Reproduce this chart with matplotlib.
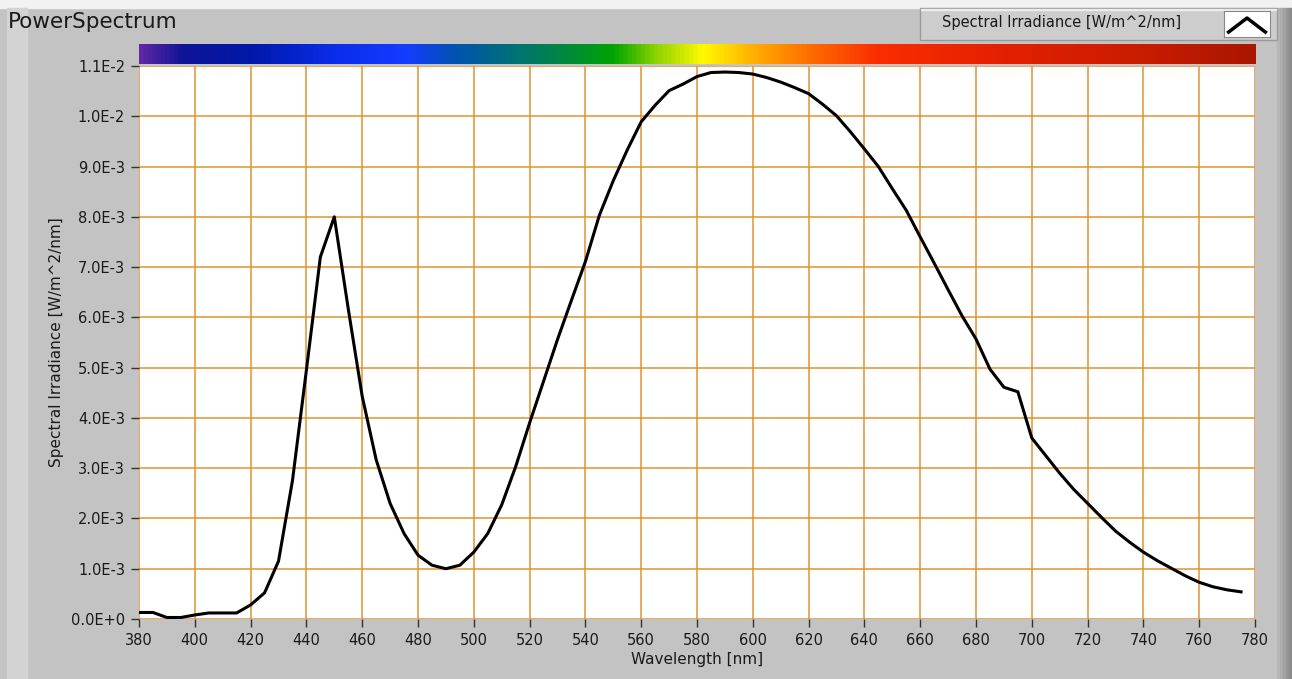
import numpy as np
import matplotlib
matplotlib.use("Agg")
import matplotlib.pyplot as plt
from matplotlib.colors import LinearSegmentedColormap
from matplotlib.patches import Rectangle
from matplotlib.ticker import FuncFormatter

# spectrum (5 nm steps), values in 1e-3 W/m^2/nm
wavelength = np.arange(380, 780, 5)
irradiance_e3 = [
    0.13, 0.13, 0.03, 0.03, 0.08, 0.12, 0.12, 0.12, 0.28, 0.52,   # 380-425
    1.15, 2.75, 4.95, 7.20, 8.00, 6.17, 4.43, 3.17, 2.30, 1.70,   # 430-475
    1.27, 1.07, 1.00, 1.07, 1.33, 1.70, 2.27, 3.03, 3.90, 4.73,   # 480-525
    5.56, 6.34, 7.11, 8.03, 8.72, 9.33, 9.89, 10.22, 10.51, 10.64,  # 530-575
    10.79, 10.87, 10.88, 10.87, 10.84, 10.77, 10.68, 10.57, 10.45, 10.24,  # 580-625
    10.01, 9.69, 9.35, 9.00, 8.56, 8.13, 7.60, 7.08, 6.55, 6.03,  # 630-675
    5.57, 4.97, 4.61, 4.52, 3.60, 3.25, 2.90, 2.58, 2.30, 2.02,   # 680-725
    1.75, 1.53, 1.33, 1.16, 1.01, 0.86, 0.73, 0.64, 0.58, 0.54,   # 730-775
]
irradiance = np.array(irradiance_e3) * 1e-3

xticks = np.arange(380, 781, 20)
yticks = np.arange(0, 12) * 1e-3

# colour strip above the plot
strip_nm = [380, 395, 420, 450, 475, 495, 515, 535, 550, 565, 582, 600, 620, 645, 690, 740, 780]
strip_rgb = [(95, 40, 165), (15, 20, 150), (0, 25, 170), (10, 45, 235), (20, 60, 255),
             (0, 85, 170), (0, 115, 115), (0, 140, 55), (0, 165, 0), (140, 210, 0),
             (255, 250, 0), (255, 175, 0), (255, 110, 0), (250, 45, 0), (228, 32, 0),
             (200, 28, 0), (170, 22, 0)]

W, H = 1292, 679
BG = "#c3c3c3"
GRID = "#e3922c"


def box(x0, y0, x1, y1):
    # pixel box (top-left origin) -> figure fraction rect
    return [x0 / W, 1 - y1 / H, (x1 - x0) / W, (y1 - y0) / H]


fig = plt.figure(figsize=(W / 100, H / 100), dpi=100, facecolor=BG)
plt.rcParams['font.family'] = ['DejaVu Sans']

# frame decoration
fig.patches.append(Rectangle((0, 1 - 8 / H), 1, 8 / H, transform=fig.transFigure,
                             color="#f2f2f2", zorder=-2))
fig.patches.append(Rectangle((7 / W, 0), 20 / W, 1 - 8 / H, transform=fig.transFigure,
                             color="#d3d3d3", zorder=-2))
for i, c in enumerate(["#b8b8b8", "#adadad", "#a2a2a2", "#979797", "#8c8c8c"]):
    fig.patches.append(Rectangle(((1277 + i * 3) / W, 0), 3 / W, 1 - 8 / H,
                                 transform=fig.transFigure, color=c, zorder=-2))

# legend panel
fig.patches.append(Rectangle((920 / W, 1 - 40 / H), 357 / W, 32 / H, transform=fig.transFigure,
                             facecolor="#cdcdcd", edgecolor="#9a9a9a", lw=1, zorder=-1))
fig.patches.append(Rectangle((921 / W, 1 - 10 / H), 355 / W, 1.5 / H, transform=fig.transFigure,
                             color="#ececec", zorder=-1))
fig.text(942 / W, 1 - 23 / H, "Spectral Irradiance [W/m^2/nm]", fontsize=10.5,
         va="center", ha="left", color="#1a1a1a")
icon = fig.add_axes(box(1224, 11, 1270, 37))
icon.set_zorder(5)
icon.set_facecolor("white")
icon.plot([0, 1, 2], [0, 1, 0], color="black", lw=2.5)
icon.set_xlim(-0.25, 2.25)
icon.set_ylim(-0.35, 1.5)
icon.set_xticks([])
icon.set_yticks([])
for s in icon.spines.values():
    s.set_color("#888888")

fig.text(8 / W, 1 - 22 / H, "PowerSpectrum", fontsize=15.5, va="center", ha="left",
         color="#1a1a1a")

# spectrum colour strip
cax = fig.add_axes(box(139, 44, 1256, 64))
cmap = LinearSegmentedColormap.from_list(
    "spec", [((n - 380) / 400, tuple(v / 255 for v in c)) for n, c in zip(strip_nm, strip_rgb)])
cax.imshow(np.linspace(0, 1, 512)[None, :], aspect="auto", cmap=cmap,
           extent=[380, 780, 0, 1])
cax.set_axis_off()

# main plot
ax = fig.add_axes(box(139, 66, 1255, 619))
ax.set_facecolor("white")
ax.plot(wavelength, irradiance, color="black", lw=2.2, solid_joinstyle="round", zorder=3)
ax.set_xlim(380, 780)
ax.set_ylim(0, 0.011)
ax.set_xticks(xticks)
ax.set_yticks(yticks)


def sci(v, pos):
    if abs(v) < 1e-12:
        return "0.0E+0"
    e = int(np.floor(np.log10(v) + 1e-9))
    return f"{v / 10 ** e:.1f}E{e}"


ax.yaxis.set_major_formatter(FuncFormatter(sci))
ax.grid(True, color=GRID, lw=1.1, zorder=1)
ax.set_axisbelow(True)
for s in ax.spines.values():
    s.set_visible(False)
ax.tick_params(direction="out", length=6, width=1, color="#333333", labelsize=10.5,
               labelcolor="#1a1a1a", pad=4)
ax.set_xlabel("Wavelength [nm]", fontsize=11, color="#1a1a1a", labelpad=3)
ax.set_ylabel("Spectral Irradiance [W/m^2/nm]", fontsize=11, color="#1a1a1a", labelpad=5)

fig.savefig("out.png", dpi=100, facecolor=BG)
